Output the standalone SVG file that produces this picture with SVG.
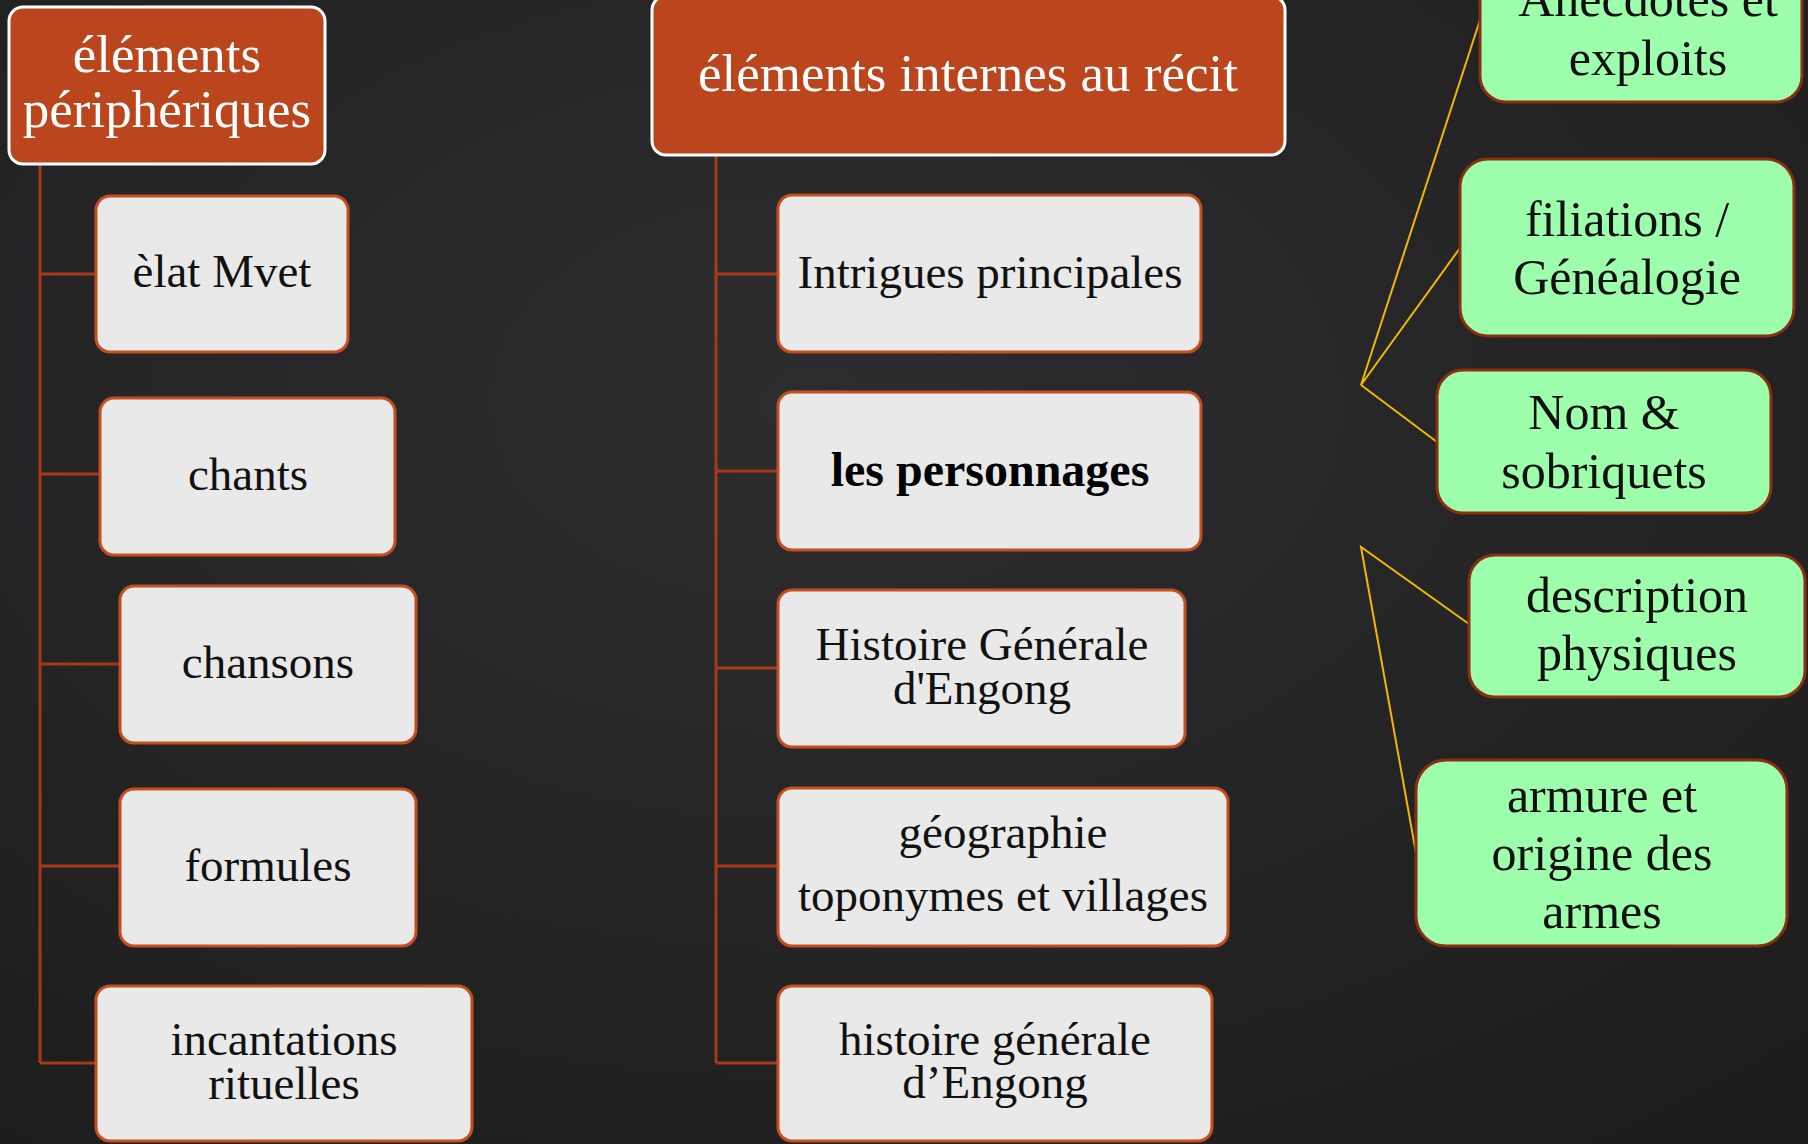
<svg xmlns="http://www.w3.org/2000/svg" width="1808" height="1144" viewBox="0 0 1808 1144">
<defs>
<radialGradient id="bg" cx="45%" cy="35%" r="80%">
<stop offset="0" stop-color="#2d2d2f"/>
<stop offset="1" stop-color="#1d1d1e"/>
</radialGradient>
</defs>
<style>
.hdr{fill:#BB461E;stroke:#ffffff;stroke-width:3}
.node{fill:#E9E9E9;stroke:#C44E1F;stroke-width:3}
.green{fill:#9DFFAB;stroke:#8A2F12;stroke-width:3}
.conn{stroke:#A63A18;stroke-width:3;fill:none}
.yel{stroke:#F2B705;stroke-width:2;fill:none}
text{font-family:"Liberation Serif","Times New Roman",serif;text-anchor:middle}
.th{fill:#ffffff;font-size:53px}
.tn{fill:#111111;font-size:47px}
.tb{fill:#000000;font-size:48px;font-weight:bold}
.tg{fill:#111111;font-size:50px}
</style>
<rect width="1808" height="1144" fill="url(#bg)"/>

<g id="connectors">
<path class="conn" d="M40 164 V1063 M40 274 H96 M40 474 H100 M40 664 H120 M40 866 H120 M40 1063 H96"/>
<path class="conn" d="M716 155 V1063 M716 274 H778 M716 471 H778 M716 668 H778 M716 866 H778 M716 1063 H778"/>
<path class="yel" d="M1480 20 L1361 385 L1460 248 M1361 385 L1437 442"/>
<path class="yel" d="M1469 624 L1361 547 L1416 853"/>
</g>

<g id="n-peripheriques">
<rect class="hdr" x="9" y="7" width="316" height="157" rx="14"/>
<text class="th" x="167" y="72">éléments</text>
<text class="th" x="167" y="127">périphériques</text>
</g>
<g id="n-elat">
<rect class="node" x="96" y="196" width="252" height="156" rx="14"/>
<text class="tn" x="222" y="287">èlat Mvet</text>
</g>
<g id="n-chants">
<rect class="node" x="100" y="398" width="295" height="157" rx="14"/>
<text class="tn" x="248" y="490">chants</text>
</g>
<g id="n-chansons">
<rect class="node" x="120" y="586" width="296" height="157" rx="14"/>
<text class="tn" x="268" y="678">chansons</text>
</g>
<g id="n-formules">
<rect class="node" x="120" y="789" width="296" height="157" rx="14"/>
<text class="tn" x="268" y="881">formules</text>
</g>
<g id="n-incantations">
<rect class="node" x="96" y="986" width="376" height="155" rx="14"/>
<text class="tn" x="284" y="1055">incantations</text>
<text class="tn" x="284" y="1099">rituelles</text>
</g>

<g id="n-internes">
<rect class="hdr" x="652" y="-4" width="633" height="159" rx="14"/>
<text class="th" x="968" y="91">éléments internes au récit</text>
</g>
<g id="n-intrigues">
<rect class="node" x="778" y="195" width="423" height="157" rx="14"/>
<text class="tn" x="990" y="288">Intrigues principales</text>
</g>
<g id="n-personnages">
<rect class="node" x="778" y="392" width="423" height="158" rx="14"/>
<text class="tb" x="990" y="486">les personnages</text>
</g>
<g id="n-histoire1">
<rect class="node" x="778" y="590" width="407" height="157" rx="14"/>
<text class="tn" x="982" y="660">Histoire Générale</text>
<text class="tn" x="982" y="704">d'Engong</text>
</g>
<g id="n-geographie">
<rect class="node" x="778" y="788" width="450" height="158" rx="14"/>
<text class="tn" x="1003" y="848">géographie</text>
<text class="tn" x="1003" y="911">toponymes et villages</text>
</g>
<g id="n-histoire2">
<rect class="node" x="778" y="986" width="434" height="155" rx="14"/>
<text class="tn" x="995" y="1055">histoire générale</text>
<text class="tn" x="995" y="1098">d’Engong</text>
</g>

<g id="n-anecdotes">
<rect class="green" x="1480" y="-50" width="322" height="152" rx="26"/>
<text class="tg" x="1648" y="16">Anecdotes et</text>
<text class="tg" x="1648" y="75">exploits</text>
</g>
<g id="n-filiations">
<rect class="green" x="1460" y="159" width="334" height="177" rx="28"/>
<text class="tg" x="1627" y="236">filiations /</text>
<text class="tg" x="1627" y="294">Généalogie</text>
</g>
<g id="n-nom">
<rect class="green" x="1437" y="370" width="334" height="143" rx="26"/>
<text class="tg" x="1604" y="429">Nom &amp;</text>
<text class="tg" x="1604" y="488">sobriquets</text>
</g>
<g id="n-description">
<rect class="green" x="1469" y="555" width="336" height="142" rx="26"/>
<text class="tg" x="1637" y="612">description</text>
<text class="tg" x="1637" y="670">physiques</text>
</g>
<g id="n-armure">
<rect class="green" x="1416" y="760" width="371" height="186" rx="30"/>
<text class="tg" x="1602" y="812">armure et</text>
<text class="tg" x="1602" y="870">origine des</text>
<text class="tg" x="1602" y="928">armes</text>
</g>
</svg>
